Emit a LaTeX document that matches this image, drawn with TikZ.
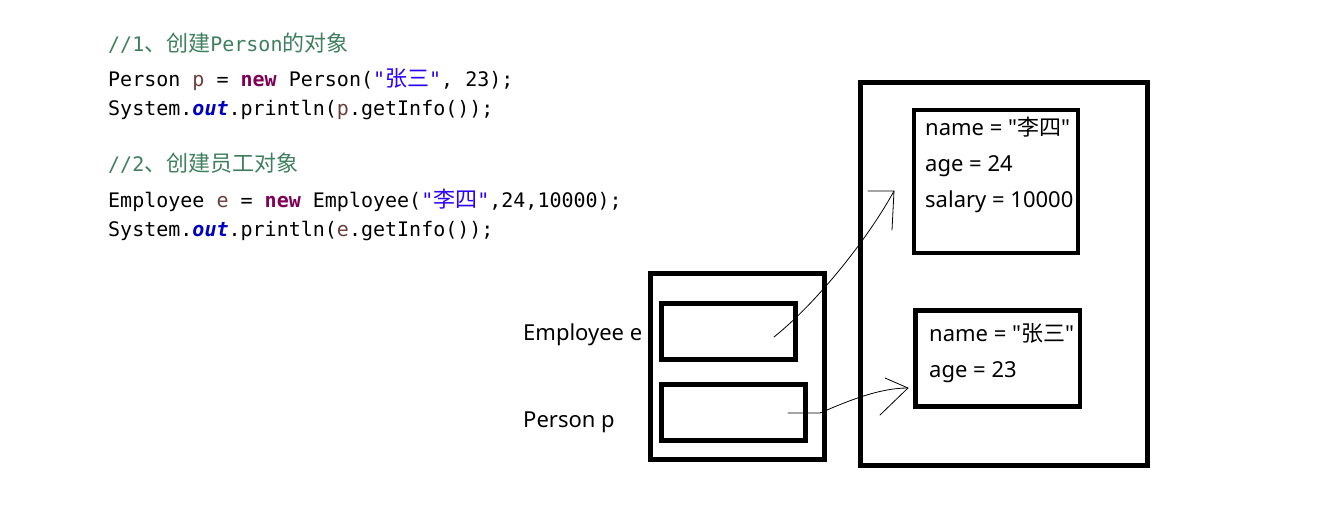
\documentclass[tikz,border=0pt]{standalone}
\usepackage{fontspec}
\setmonofont{DejaVu Sans Mono}
\newfontfamily\lblfont{Noto Sans}
\newfontfamily\cjk{Noto Sans CJK SC}
\newfontfamily\cjkcode[Scale=1.1]{Noto Sans CJK SC}
\definecolor{jcomment}{HTML}{3F7F5F}
\definecolor{jkeyword}{HTML}{7F0055}
\definecolor{jlocal}{HTML}{6A3E3E}
\definecolor{jfield}{HTML}{0000C0}
\definecolor{jstring}{HTML}{2A00FF}
\newcommand{\jkw}[1]{\textcolor{jkeyword}{\bfseries #1}}
\newcommand{\jvar}[1]{\textcolor{jlocal}{#1}}
\newcommand{\jfld}[1]{\textcolor{jfield}{\bfseries\itshape #1}}
\newcommand{\jstr}[1]{\textcolor{jstring}{#1}}
\tikzset{
	code/.style={font=\ttfamily\fontsize{20}{24}\selectfont, inner sep=0, anchor=base west},
	remark/.style={code, text=jcomment},
	lbl/.style={font=\lblfont\fontsize{22}{26}\selectfont, inner sep=0, anchor=base west},
	box/.style={draw, line width=4.5pt, inner sep=0},
	ref/.style={line width=0.8pt, line cap=round, line join=round}
}
\begin{document}
\begin{tikzpicture}[x=1pt, y=-1pt]
		\useasboundingbox (0,0) rectangle (1339,530);
		\node[remark] (c1) at (108,51) {//1{\cjkcode 、创建}Person{\cjkcode 的对象}};
		\node[code] (l1) at (108,86) {Person \jvar{p} = \jkw{new} Person(\jstr{"{\cjkcode 张三}"}, 23);};
		\node[code] (l2) at (108,115) {System.\jfld{out}.println(\jvar{p}.getInfo());};
		\node[remark] (c2) at (108,171) {//2{\cjkcode 、创建员工对象}};
		\node[code] (l3) at (108,207) {Employee \jvar{e} = \jkw{new} Employee(\jstr{"{\cjkcode 李四}"},24,10000);};
		\node[code] (l4) at (108,236) {System.\jfld{out}.println(\jvar{e}.getInfo());};
		\node[box, minimum width=174pt, minimum height=186pt] (stack) at (737.5,366.5) {};
		\node[box, minimum width=134pt, minimum height=56pt] (eslot) at (728.5,331.5) {};
		\node[box, minimum width=144pt, minimum height=56pt] (pslot) at (733.5,412.5) {};
		\node[lbl] (elbl) at (523,340) {Employee e};
		\node[lbl] (plbl) at (523,427) {Person p};
		\node[box, minimum width=287pt, minimum height=383pt] (heap) at (1004,274) {};
		\node[box, minimum width=164pt, minimum height=143pt] (eobj) at (996,181.5) {};
		\node[box, minimum width=164.5pt, minimum height=96pt] (pobj) at (997.75,358.5) {};
		\node[lbl] (ename) at (925,135) {name = "{\cjk 李四}"};
		\node[lbl] (eage) at (925,171) {age = 24};
		\node[lbl] (esal) at (925,207) {salary = 10000};
		\node[lbl] (pname) at (929,341) {name = "{\cjk 张三}"};
		\node[lbl] (page) at (929,377) {age = 23};
		\coordinate (eref) at (774,337);
		\coordinate (etip) at (894,191);
		\coordinate (pref) at (788,413);
		\coordinate (ptip) at (908,388);
		\draw[ref] (eref) .. controls (820,300) and (870,235) .. (etip);
		\draw[ref] (etip) -- ++(-26,0) (etip) -- ++(-2,39);
		\draw[ref] (pref) -- ++(32,0) .. controls (850,400) and (880,388) .. (ptip);
		\draw[ref] (ptip) -- ++(-23,-10) (ptip) -- ++(-28,27);
	\end{tikzpicture}
\end{document}
